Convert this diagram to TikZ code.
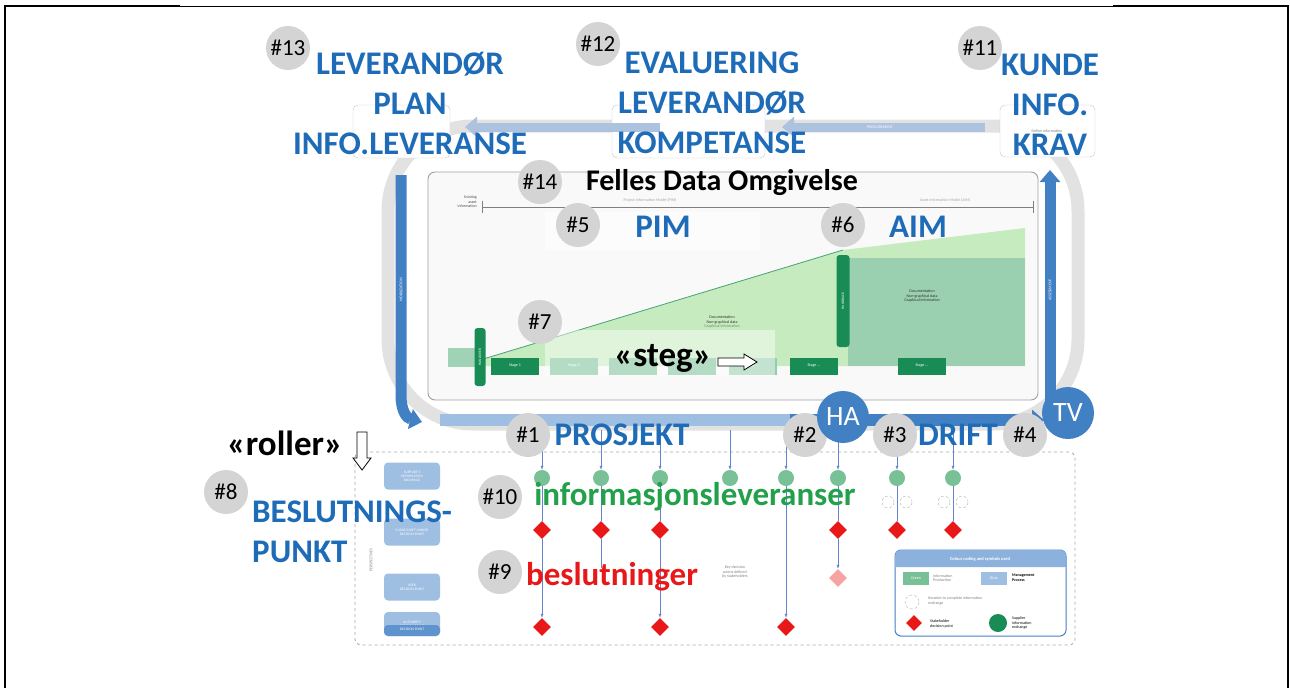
\documentclass[tikz,border=0pt]{standalone}
\usepackage{fontspec}
\setmainfont{Carlito}
\usepackage{tikz}
\usetikzlibrary{arrows.meta}
\usetikzlibrary{positioning}
\usetikzlibrary{shapes.geometric}
\definecolor{mblue}{RGB}{30,108,184}
\definecolor{bblue}{RGB}{66,128,196}
\definecolor{lblue}{RGB}{158,190,226}
\definecolor{pblue}{RGB}{172,194,222}
\definecolor{cblue}{RGB}{100,130,210}
\definecolor{mgreen}{RGB}{34,160,74}
\definecolor{dgreen}{RGB}{24,140,84}
\definecolor{sgreen}{RGB}{120,192,150}
\definecolor{lgreen}{RGB}{198,235,190}
\definecolor{mred}{RGB}{232,24,24}
\definecolor{cgray}{RGB}{212,212,212}
\definecolor{rgray}{RGB}{226,226,226}

\tikzset{
  numc/.style={circle, fill=cgray, minimum size=44pt, inner sep=0pt, font=\fontsize{23}{23}\selectfont},
  bluelbl/.style={text=mblue, font=\bfseries\fontsize{33}{40}\selectfont, align=center, inner sep=0pt},
  blacklbl/.style={text=black, font=\bfseries\fontsize{35}{40}\selectfont, inner sep=0pt},
  tiny/.style={font=\fontsize{4}{4.6}\selectfont, text=gray, align=center, inner sep=0pt},
  stagebox/.style={fill=dgreen, minimum width=48pt, minimum height=17pt, inner sep=0pt, font=\fontsize{4}{4}\selectfont, text=white},
  infoc/.style={circle, fill=sgreen, minimum size=16pt, inner sep=0pt},
  decd/.style={diamond, fill=mred, minimum size=18pt, inner sep=0pt},
  colline/.style={cblue, line width=0.5pt},
  colarrow/.style={cblue, line width=0.5pt, -{Latex[length=4pt,width=3pt]}},
  perbox/.style={rounded corners=4pt, fill=lblue, minimum width=56pt, minimum height=27pt, font=\fontsize{3.6}{4.2}\selectfont, text=white, align=center, inner sep=0pt},
  blueball/.style={circle, fill=bblue, minimum size=52pt, inner sep=0pt, text=white, font=\fontsize{28}{28}\selectfont},
  hollow/.style={draw=black, fill=white, line width=0.8pt, line join=miter},
  band/.style={line width=11pt, -{Triangle[length=12pt,width=20pt]}}
}

\begin{document}
\begin{tikzpicture}[x=1pt, y=-1pt]
  \useasboundingbox (0,0) rectangle (1290,688);
  \draw[line width=1.6pt] (5,688) -- (5,6) -- (180,6);
  \draw[line width=0.8pt] (180,6) -- (1113,6);
  \draw[line width=1.6pt] (1113,6) -- (1288,6) -- (1288,688);

  % cycle behind the model
  \draw[rgray, line width=13pt, rounded corners=85pt] (388,126) rectangle (1078,424);
  \draw[gray!45, rounded corners=5pt, fill=white] (353,105) rectangle (450,158);
  \draw[gray!45, rounded corners=5pt, fill=white] (612,105) rectangle (765,158);
  \draw[gray!45, rounded corners=5pt, fill=white] (1000,105) rectangle (1095,157);
  \node[tiny] (define) at (1047,131) {Define information};

  \draw[pblue, band, line width=9pt] (985,127) -- (782,127);
  \draw[pblue, band, line width=9pt] (660,127) -- (465,127);
  \node[tiny, text=white] (proc) at (880,127) {PROCUREMENT};
  \draw[bblue, band] (401,175) -- (401,395) .. controls (401,410) and (406,418) .. (422,422);
  \draw[lblue, line width=12pt] (440,420) -- (800,420);
  \draw[bblue, band, line width=12pt] (790,420) -- (1044,420);
  \draw[bblue, band] (1050,420) -- (1050,170);
  \node[tiny, text=white, rotate=90] (mob) at (401,290) {MOBILIZATION};
  \node[tiny, text=white, rotate=90] (ass) at (1050,290) {ASSESSMENT};

  % common data environment
  \draw[gray!75, fill=gray!5, rounded corners=7pt, line width=0.9pt] (428,172) rectangle (1038,400);
  \node[tiny, text=black!70, align=right, anchor=east] (exist) at (477,202) {Existing\\asset\\information};
  \draw[gray] (482,201) -- (482,213);
  \draw[gray] (482,207) -- (1033,207);
  \draw[gray] (1033,201) -- (1033,213);
  \node[tiny, text=gray!70] (pimt) at (650,200) {Project Information Model (PIM)};
  \node[tiny, text=gray!70] (aimt) at (945,200) {Asset Information Model (AIM)};

  \fill[sgreen!70] (448,348) rectangle (480,367);
  \fill[lgreen] (480,360) -- (843,250) -- (1025,228) -- (1025,366) -- (480,366) -- cycle;
  \draw[dgreen!80, line width=0.8pt] (480,360) -- (843,250);
  \fill[sgreen!75] (848,258) rectangle (1025,366);
  \node[fill=dgreen, rounded corners=3pt, rotate=90, minimum width=58pt, minimum height=11pt, inner sep=0pt, font=\fontsize{3.6}{4}\selectfont, text=white] (handover) at (480,357) {HANDOVER};
  \node[fill=dgreen, rounded corners=3pt, rotate=90, minimum width=92pt, minimum height=13pt, inner sep=0pt, font=\fontsize{3.6}{4}\selectfont, text=white] (handback) at (843,301) {HANDBACK};

  \node[stagebox] (s1) at (515,366) {Stage 1};
  \node[stagebox, fill=sgreen] (s2) at (574,366) {Stage 2};
  \node[stagebox, fill=sgreen] (s3) at (633,366) {};
  \node[stagebox, fill=sgreen] (s4) at (692,366) {};
  \node[stagebox, fill=sgreen!80] (s5) at (753,366) {Stage ...};
  \node[stagebox] (s6) at (814,366) {Stage ...};
  \node[stagebox] (s7) at (922,366) {Stage ...};
  \node[tiny, text=black!80] (doc1) at (722,322) {Documentation\\Non-graphical data\\{\color{gray}Graphical information}};
  \node[tiny, text=black!80] (doc2) at (922,296) {Documentation\\Non-graphical data\\Graphical information};
  \fill[white, opacity=0.45] (545,330) rectangle (775,376);
  \fill[white, opacity=0.5] (545,212) rectangle (760,250);

  % decision points
  \draw[gray!70, dashed, rounded corners=6pt, line width=0.8pt] (355,452) rectangle (1075,645);
  \node[perbox] (p1) at (412,476) {SUPPLIER'S\\INFORMATION\\EXCHANGE};
  \node[perbox] (p2) at (412,532) {CLIENT/ASSET OWNER\\DECISION POINT};
  \node[perbox] (p3) at (412,587) {USER\\DECISION POINT};
  \node[perbox, minimum height=24pt] (p4) at (412,624) {AUTHORITY\\DECISION POINT};
  \fill[bblue!85, rounded corners=4pt] (384,625) rectangle (440,636);
  \node[tiny, text=white, font=\fontsize{3.6}{4.2}\selectfont] (p4b) at (412,629) {DECISION POINT};
  \node[tiny, rotate=90] (persp) at (371,560) {PERSPECTIVES};

  \coordinate (t1) at (542,430);
  \coordinate (t2) at (601,430);
  \coordinate (t3) at (660,430);
  \coordinate (t4) at (730,430);
  \coordinate (t5) at (786,430);
  \coordinate (t6) at (838,430);
  \coordinate (t7) at (897,430);
  \coordinate (t8) at (953,430);
  \node[infoc] (i1) at (542,478) {};
  \node[infoc] (i2) at (601,478) {};
  \node[infoc] (i3) at (660,478) {};
  \node[infoc] (i4) at (730,478) {};
  \node[infoc] (i5) at (786,478) {};
  \node[infoc] (i6) at (838,478) {};
  \node[infoc] (i7) at (897,478) {};
  \node[infoc] (i8) at (953,478) {};
  \node[decd] (d1) at (542,530) {};
  \node[decd] (d2) at (601,530) {};
  \node[decd] (d3) at (660,530) {};
  \node[decd] (d6) at (838,530) {};
  \node[decd] (d7) at (897,530) {};
  \node[decd] (d8) at (953,530) {};
  \node[decd] (e1) at (542,627) {};
  \node[decd] (e3) at (660,627) {};
  \node[decd] (e5) at (786,627) {};
  \node[decd, fill=mred!40] (f6) at (838,578) {};
  \coordinate (b2) at (601,568);
  \draw[colarrow] (t1) -- (i1);
  \draw[colarrow] (t2) -- (i2);
  \draw[colarrow] (t3) -- (i3);
  \draw[colarrow] (t4) -- (i4);
  \draw[colarrow] (t5) -- (i5);
  \draw[colarrow] (t6) -- (i6);
  \draw[colarrow] (t7) -- (i7);
  \draw[colarrow] (t8) -- (i8);
  \draw[colline] (i1) -- (d1);
  \draw[colline] (i2) -- (d2);
  \draw[colline] (i3) -- (d3);
  \draw[colline] (i6) -- (d6);
  \draw[colline] (i7) -- (d7);
  \draw[colline] (i8) -- (d8);
  \draw[colarrow] (d1) -- (e1);
  \draw[colline] (d2) -- (b2);
  \draw[colarrow] (d3) -- (e3);
  \draw[colarrow] (i5) -- (e5);
  \draw[colarrow] (d6) -- (f6);
  \draw[gray!60, densely dashed] (888,502) circle (6);
  \draw[gray!60, densely dashed] (906,502) circle (6);
  \draw[gray!60, densely dashed] (944,502) circle (6);
  \draw[gray!60, densely dashed] (962,502) circle (6);
  \node[tiny] (keyd) at (735,572) {Key decision\\points defined\\by stakeholders};

  % legend
  \draw[bblue, fill=white, rounded corners=6pt, line width=1pt] (895,550) rectangle (1066,636);
  \fill[lblue!80!bblue] (895,567) [rounded corners=6pt] -- (895,550) -- (1066,550) [sharp corners] -- (1066,567) -- cycle;
  \node[tiny, text=white, font=\bfseries\fontsize{4.5}{5}\selectfont] (legt) at (980,559) {Colour coding and symbols used};
  \node[fill=sgreen, minimum width=26pt, minimum height=13pt, inner sep=0pt, tiny, text=white] (lgr) at (916,578) {Green};
  \node[tiny, anchor=west, align=left] (lgrt) at (933,578) {Information\\Production};
  \node[fill=lblue, minimum width=26pt, minimum height=13pt, inner sep=0pt, tiny, text=white] (lbl) at (994,578) {Blue};
  \node[tiny, anchor=west, align=left, text=black, font=\bfseries\fontsize{4}{4.6}\selectfont] (lblt) at (1012,578) {Management\\Process};
  \draw[gray!60, densely dashed] (912,602) circle (7);
  \node[tiny, anchor=west, align=left] (litt) at (928,601) {Iterative to complete information\\exchange};
  \node[decd, minimum size=16pt] (ld) at (914,623) {};
  \node[tiny, anchor=west, align=left, text=black] (ldt) at (930,624) {Stakeholder\\decision point};
  \node[circle, fill=dgreen, minimum size=18pt, inner sep=0pt] (lc) at (998,623) {};
  \node[tiny, anchor=west, align=left, text=black] (lct) at (1012,623) {Supplier\\information\\exchange};

  % overlay labels
  \node[numc] (n13) at (288,48) {\#13};
  \node[bluelbl] (lev) at (410,103) {LEVERANDØR\\PLAN\\INFO.LEVERANSE};
  \node[numc] (n12) at (598,44) {\#12};
  \node[bluelbl] (eval) at (712,103) {EVALUERING\\LEVERANDØR\\KOMPETANSE};
  \node[numc] (n11) at (980,48) {\#11};
  \node[bluelbl] (kunde) at (1050,105) {KUNDE\\INFO.\\KRAV};
  \node[numc] (n14) at (540,182) {\#14};
  \node[blacklbl, font=\bfseries\fontsize{30}{30}\selectfont] (cde) at (722,183) {Felles Data Omgivelse};
  \node[numc] (n5) at (578,225) {\#5};
  \node[bluelbl] (pim) at (663,227) {PIM};
  \node[numc] (n6) at (843,225) {\#6};
  \node[bluelbl] (aim) at (918,227) {AIM};
  \node[numc] (n7) at (540,322) {\#7};
  \node[blacklbl] (steg) at (663,358) {«steg»};
  \draw[hollow] (718,358) -- (744,358) -- (744,354) -- (757,362) -- (744,370) -- (744,366) -- (718,366) -- cycle;
  \node[blacklbl] (roller) at (285,443) {«roller»};
  \draw[hollow] (357,432) -- (357,458) -- (353,458) -- (362,470) -- (371,458) -- (367,458) -- (367,432) -- cycle;
  \node[numc] (n8) at (226,492) {\#8};
  \node[bluelbl, align=left, anchor=west] (beslp) at (252,532) {BESLUTNINGS-\\PUNKT};
  \node[numc] (n1) at (528,435) {\#1};
  \node[bluelbl] (prosj) at (622,435) {PROSJEKT};
  \node[numc] (n2) at (805,435) {\#2};
  \node[blueball] (ha) at (843,417) {HA};
  \node[numc] (n3) at (895,435) {\#3};
  \node[bluelbl] (drift) at (958,435) {DRIFT};
  \node[blueball] (tv) at (1068,413) {TV};
  \node[numc] (n4) at (1025,435) {\#4};
  \node[numc] (n10) at (500,497) {\#10};
  \node[bluelbl, text=mgreen] (infol) at (695,497) {informasjonsleveranser};
  \node[numc] (n9) at (500,572) {\#9};
  \node[bluelbl, text=mred] (beslut) at (612,577) {beslutninger};
\end{tikzpicture}
\end{document}
